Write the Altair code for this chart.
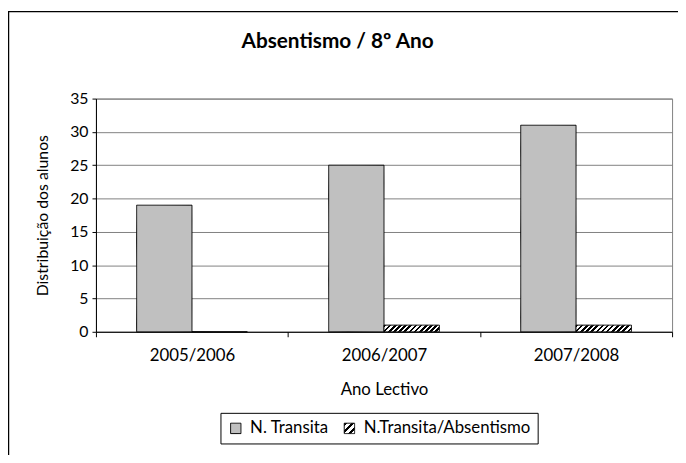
import json
import altair as alt
import pandas as pd

# ---- data ----
anos = ["2005/2006", "2006/2007", "2007/2008"]
series = ["N. Transita", "N.Transita/Absentismo"]
n_transita = [19, 25, 31]
n_transita_abs = [0, 1, 1]
y_ticks = [0, 5, 10, 15, 20, 25, 30, 35]

rows = []
for a, v1, v2 in zip(anos, n_transita, n_transita_abs):
    rows.append({"ano": a, "serie": series[0], "valor": v1})
    rows.append({"ano": a, "serie": series[1], "valor": v2})
df = pd.DataFrame(rows)


def hatch(n, x2, y2, frac=0.5):
    stops = []
    for i in range(n):
        a = i / n
        b = (i + frac) / n
        c = (i + 1) / n
        stops += [
            {"offset": round(a, 4), "color": "black"},
            {"offset": round(b, 4), "color": "black"},
            {"offset": round(b, 4), "color": "white"},
            {"offset": round(c, 4), "color": "white"},
        ]
    return {"gradient": "linear", "x1": 0, "y1": 0, "x2": x2, "y2": y2, "stops": stops}


k = 0.12
a = (1 + k) / (1 + k * k)
bar_hatch = hatch(12, round(a, 4), round(a * k, 4), 0.5)
legend_hatch = hatch(3, 1, 1, 0.45)

FONT = "Lato"
GRAY = "#c0c0c0"

fill_expr = "datum.serie === '" + series[1] + "' ? " + json.dumps(bar_hatch) + " : '" + GRAY + "'"
sym_fill_expr = "datum.value === '" + series[1] + "' ? " + json.dumps(legend_hatch) + " : '" + GRAY + "'"

legend = alt.Legend(
    title=None,
    orient="none",
    legendX=126,
    legendY=318,
    direction="horizontal",
    strokeColor="black",
    fillColor="white",
    padding=7,
    symbolType="square",
    symbolSize=110,
    symbolStrokeColor="black",
    symbolStrokeWidth=1,
    symbolFillColor={"expr": sym_fill_expr},
    symbolOpacity=1,
    labelFont=FONT,
    labelFontSize=17,
    labelColor="black",
    columnPadding=12,
    labelOffset=6,
    labelLimit=400,
)

bars = (
    alt.Chart(df)
    .transform_calculate(fillv=fill_expr)
    .mark_bar(stroke="black", strokeWidth=1)
    .encode(
        x=alt.X(
            "ano:N",
            sort=anos,
            title="Ano Lectivo",
            scale=alt.Scale(paddingInner=0, paddingOuter=0),
            axis=alt.Axis(
                tickBand="extent",
                labelAngle=0,
                tickSize=5,
                tickColor="black",
                domainColor="black",
                labelFont=FONT,
                labelFontSize=17,
                labelColor="black",
                labelPadding=11,
                titleFont=FONT,
                titleFontSize=17,
                titleFontWeight="normal",
                titleColor="black",
                titlePadding=18,
                grid=False,
            ),
        ),
        xOffset=alt.XOffset(
            "serie:N", sort=series, scale=alt.Scale(paddingInner=0, paddingOuter=0.735)
        ),
        y=alt.Y(
            "valor:Q",
            scale=alt.Scale(domain=[0, 35], nice=False),
            axis=alt.Axis(
                values=y_ticks,
                title="Distribuição dos alunos",
                tickSize=4,
                tickColor="black",
                domainColor="black",
                gridColor="#808080",
                gridWidth=1,
                labelFont=FONT,
                labelFontSize=16,
                labelColor="black",
                labelPadding=4,
                titleFont=FONT,
                titleFontSize=16,
                titleFontWeight="normal",
                titleColor="black",
                titlePadding=19,
            ),
        ),
        fill=alt.Fill("fillv:N", scale=None, legend=None),
        strokeDash=alt.StrokeDash(
            "serie:N",
            sort=series,
            scale=alt.Scale(domain=series, range=[[1, 0], [1, 0]]),
            legend=legend,
        ),
    )
)

frame = alt.Chart(pd.DataFrame({"f": [0]})).mark_rect(
    fillOpacity=0, stroke="black", strokeWidth=1.5
).encode(
    x=alt.value(-88.5), x2=alt.value(700), y=alt.value(-88), y2=alt.value(500)
)

chart = (
    alt.layer(frame, bars)
    .properties(
        width=583,
        height=236,
        autosize=alt.AutoSizeParams(type="none"),
        padding={"left": 89, "top": 89, "right": 6, "bottom": 122},
        title=alt.TitleParams(
            "Absentismo / 8º Ano",
            font=FONT,
            fontSize=21,
            fontWeight="bold",
            color="black",
            anchor="middle",
            dx=-47,
            offset=-42,
        ),
        background="white",
    )
    .configure_view(stroke="#808080", strokeWidth=1)
)

chart.save("out.html", embed_options={"renderer": "svg", "actions": False})
